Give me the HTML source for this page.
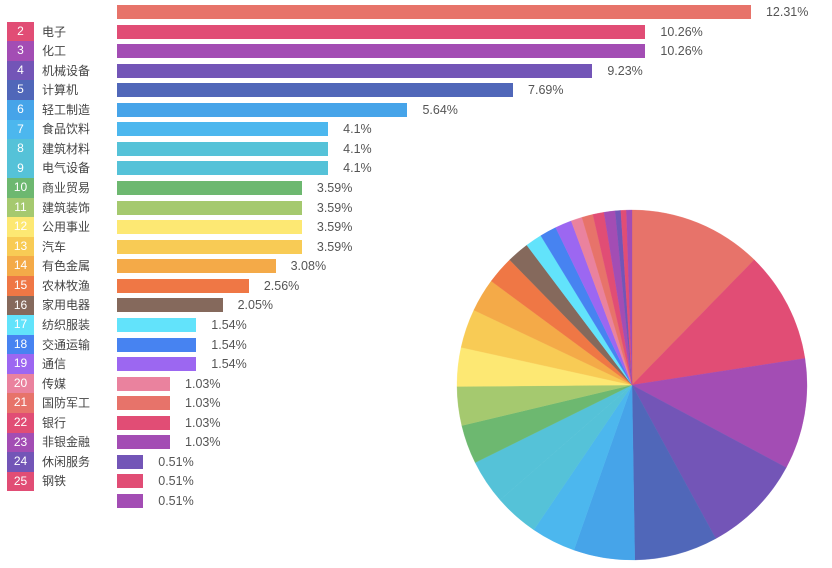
<!DOCTYPE html>
<html><head><meta charset="utf-8"><style>
body{margin:0;width:832px;height:568px;background:#fff;overflow:hidden;font-family:"Liberation Sans","Noto Sans CJK SC",sans-serif;position:relative}
.b{position:absolute;height:14px}
.t{position:absolute;font-size:12.5px;color:#555;line-height:14px}
.n{position:absolute;font-size:12px;color:#444;line-height:14px}
.g{position:absolute;left:7px;width:27px;height:19.6px;color:#fff;font-size:12px;text-align:center;line-height:19.6px}
</style></head><body>
<div id="c"></div>
<svg id="p" width="832" height="568" style="position:absolute;left:0;top:0"></svg>
<script>
var v=[12.31,10.26,10.26,9.23,7.69,5.64,4.1,4.1,4.1,3.59,3.59,3.59,3.59,3.08,2.56,2.05,1.54,1.54,1.54,1.03,1.03,1.03,1.03,0.51,0.51,0.51];
var col=["#e7736a","#e14d75","#a34db4","#7355b7","#5067b9","#46a4e9","#4cb7ee","#55c2d8","#55c2d8","#6db870","#a5c96f","#fde873","#f8cb55","#f4aa48","#ef7745","#85695c","#62e3fb","#4783f1","#9c67f1","#ea829e","#e7736a","#e14d75","#a34db4","#7355b7","#e14d75","#a34db4"];
var nm=["","电子","化工","机械设备","计算机","轻工制造","食品饮料","建筑材料","电气设备","商业贸易","建筑装饰","公用事业","汽车","有色金属","农林牧渔","家用电器","纺织服装","交通运输","通信","传媒","国防军工","银行","非银金融","休闲服务","钢铁"];
var h="";
for(var i=0;i<26;i++){
 var y=12+i*19.56, w=v[i]*51.5;
 h+='<div class="b" style="left:117px;top:'+(y-7)+'px;width:'+w+'px;background:'+col[i]+'"></div>';
 h+='<div class="t" style="left:'+(117+w+15)+'px;top:'+(y-7)+'px">'+v[i]+'%</div>';
 if(i>=1&&i<=24){
  h+='<div class="g" style="top:'+(y-9.8)+'px;background:'+col[i]+'">'+(i+1)+'</div>';
  h+='<div class="n" style="left:42px;top:'+(y-7)+'px">'+nm[i]+'</div>';
 }
}
document.getElementById('c').innerHTML=h;
var s=0;for(i=0;i<26;i++)s+=v[i];
var cx=632,cy=385,r=175,a=0,p="";
for(i=0;i<26;i++){
 var a2=a+v[i]/s*2*Math.PI;
 var x1=cx+r*Math.sin(a),y1=cy-r*Math.cos(a),x2=cx+r*Math.sin(a2),y2=cy-r*Math.cos(a2);
 p+='<path d="M'+cx+','+cy+'L'+x1+','+y1+'A'+r+','+r+' 0 '+((a2-a)>Math.PI?1:0)+' 1 '+x2+','+y2+'Z" fill="'+col[i]+'" stroke="'+col[i]+'" stroke-width="0.3"/>';
 a=a2;
}
document.getElementById('p').innerHTML=p;
</script>
</body></html>
